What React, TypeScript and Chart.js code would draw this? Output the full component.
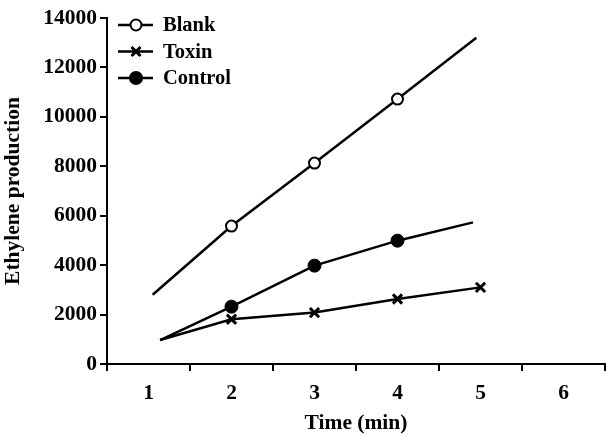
import React, { useEffect, useRef } from 'react';
import { Chart, registerables } from 'chart.js';

Chart.register(...registerables);

// ---- data ----
const xTickValues = [1, 2, 3, 4, 5, 6];
const yTickValues = [0, 2000, 4000, 6000, 8000, 10000, 12000, 14000];

const seriesNames = ['Blank', 'Toxin', 'Control'];

const blankX = [1.05, 2, 3, 4, 4.95];
const blankY = [2800, 5580, 8130, 10720, 13200];

const toxinX = [1.14, 2, 3, 4, 5];
const toxinY = [970, 1810, 2080, 2630, 3100];

const controlX = [1.14, 2, 3, 4, 4.91];
const controlY = [970, 2320, 3980, 4990, 5730];

const xTitle = 'Time (min)';
const yTitle = 'Ethylene production';

const FONT = "'Liberation Serif', 'Times New Roman', serif";

function pts(xs: number[], ys: number[]) {
  return xs.map((x, i) => ({ x, y: ys[i] }));
}

function drawMarker(ctx: CanvasRenderingContext2D, kind: string, x: number, y: number) {
  ctx.save();
  ctx.strokeStyle = '#000';
  ctx.fillStyle = '#000';
  if (kind === 'open') {
    ctx.beginPath();
    ctx.arc(x, y, 5.5, 0, Math.PI * 2);
    ctx.fillStyle = '#fff';
    ctx.fill();
    ctx.lineWidth = 2;
    ctx.stroke();
  } else if (kind === 'filled') {
    ctx.beginPath();
    ctx.arc(x, y, 7, 0, Math.PI * 2);
    ctx.fill();
  } else {
    const r = 4.5;
    ctx.lineWidth = 3;
    ctx.beginPath();
    ctx.moveTo(x - r, y - r);
    ctx.lineTo(x + r, y + r);
    ctx.moveTo(x + r, y - r);
    ctx.lineTo(x - r, y + r);
    ctx.stroke();
  }
  ctx.restore();
}

const markerKinds = ['open', 'cross', 'filled'];

const legendPlugin = {
  id: 'customLegend',
  afterDraw(chart: any) {
    const { ctx, chartArea } = chart;
    const x0 = chartArea.left + 11;
    const y0 = chartArea.top + 7;
    const rowH = 26.5;
    ctx.save();
    seriesNames.forEach((name, i) => {
      const y = y0 + i * rowH;
      ctx.strokeStyle = '#000';
      ctx.lineWidth = 2.5;
      ctx.beginPath();
      ctx.moveTo(x0, y);
      ctx.lineTo(x0 + 35, y);
      ctx.stroke();
      drawMarker(ctx, markerKinds[i], x0 + 18, y);
      ctx.fillStyle = '#000';
      ctx.font = `bold 20.5px ${FONT}`;
      ctx.textBaseline = 'middle';
      ctx.textAlign = 'left';
      ctx.fillText(name, x0 + 45, y + 1);
    });
    ctx.restore();
  },
};

export default function App() {
  const ref = useRef<HTMLCanvasElement | null>(null);

  useEffect(() => {
    if (!ref.current) return;
    const chart = new Chart(ref.current, {
      type: 'line',
      data: {
        datasets: [
          {
            label: seriesNames[0],
            data: pts(blankX, blankY),
            borderColor: '#000',
            borderWidth: 2.5,
            backgroundColor: '#fff',
            pointBackgroundColor: '#fff',
            pointBorderColor: '#000',
            pointBorderWidth: 2,
            pointStyle: 'circle',
            pointRadius: [0, 5.5, 5.5, 5.5, 0],
            tension: 0,
          },
          {
            label: seriesNames[1],
            data: pts(toxinX, toxinY),
            borderColor: '#000',
            borderWidth: 2.5,
            pointBorderColor: '#000',
            pointBorderWidth: 3,
            pointStyle: 'crossRot',
            pointRadius: [0, 6.5, 6.5, 6.5, 6.5],
            tension: 0,
          },
          {
            label: seriesNames[2],
            data: pts(controlX, controlY),
            borderColor: '#000',
            borderWidth: 2.5,
            pointBackgroundColor: '#000',
            pointBorderColor: '#000',
            pointBorderWidth: 1,
            pointStyle: 'circle',
            pointRadius: [0, 6.5, 6.5, 6.5, 0],
            tension: 0,
          },
        ],
      },
      options: {
        animation: false,
        responsive: false,
        maintainAspectRatio: false,
        layout: { autoPadding: false, padding: { top: 18, right: 1, left: 0, bottom: 0 } },
        plugins: {
          legend: { display: false },
          tooltip: { enabled: false },
        },
        scales: {
          x: {
            type: 'linear',
            min: 0.5,
            max: 6.5,
            afterBuildTicks: (scale: any) => {
              scale.ticks = xTickValues.map((v) => ({ value: v }));
            },
            afterFit: (scale: any) => {
              scale.height = 72;
              scale.paddingLeft = 0;
              scale.paddingRight = 0;
            },
            border: { display: true, color: '#000', width: 2 },
            grid: {
              offset: true,
              drawOnChartArea: false,
              drawTicks: true,
              tickLength: 7,
              tickWidth: 2,
              tickColor: '#000',
              color: '#000',
              lineWidth: 2,
            },
            ticks: {
              autoSkip: false,
              maxRotation: 0,
              padding: 10,
              color: '#000',
              font: { family: FONT, size: 21.5, weight: 'bold' },
              callback: (v: any) => String(v),
            },
            title: {
              display: true,
              text: xTitle,
              color: '#000',
              font: { family: FONT, size: 21.5, weight: 'bold' },
              padding: { top: 0, bottom: 0 },
            },
          },
          y: {
            type: 'linear',
            min: 0,
            max: 14000,
            afterBuildTicks: (scale: any) => {
              scale.ticks = yTickValues.map((v) => ({ value: v }));
            },
            afterFit: (scale: any) => {
              scale.width = 107;
            },
            border: { display: true, color: '#000', width: 2 },
            grid: {
              drawOnChartArea: false,
              drawTicks: true,
              tickLength: 7,
              tickWidth: 2,
              tickColor: '#000',
              color: '#000',
              lineWidth: 2,
            },
            ticks: {
              padding: 3,
              color: '#000',
              font: { family: FONT, size: 21.5, weight: 'bold' },
              callback: (v: any) => String(v),
            },
            title: {
              display: true,
              text: yTitle,
              color: '#000',
              font: { family: FONT, size: 21.5, weight: 'bold' },
              padding: { top: 1, bottom: 0 },
            },
          },
        },
      } as any,
      plugins: [legendPlugin],
    });
    return () => chart.destroy();
  }, []);

  return (
    <div style={{ position: 'fixed', left: 0, top: 0, width: 606, height: 436, background: '#fff' }}>
      <canvas ref={ref} width={606} height={436} style={{ width: 606, height: 436, display: 'block' }} />
    </div>
  );
}
